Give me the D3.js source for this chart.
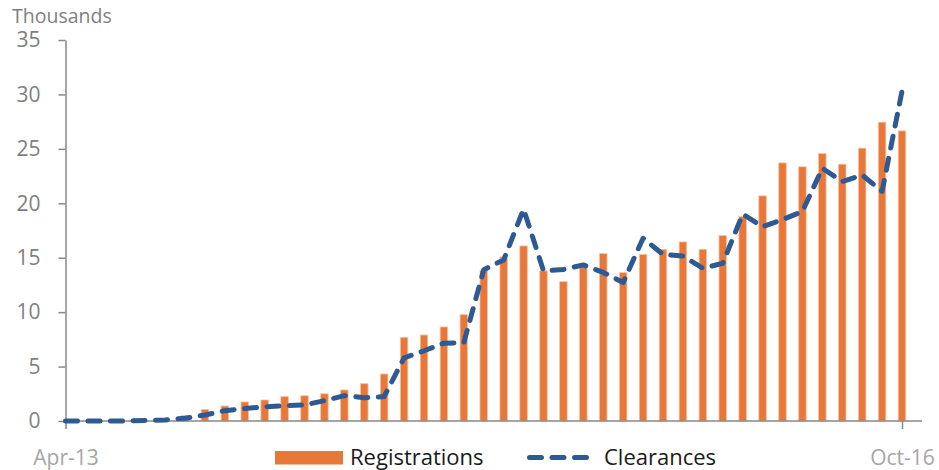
<!DOCTYPE html>
<html>
<head>
<meta charset="utf-8">
<script src="https://cdn.jsdelivr.net/npm/d3@7"></script>
<style>
  body { margin: 0; background: #fff; }
  svg { display: block; }
</style>
</head>
<body>
<div id="chart"></div>
<script>
// monthly categories, Apr-13 .. Oct-16
var months = [
  'Apr-13','May-13','Jun-13','Jul-13','Aug-13','Sep-13','Oct-13','Nov-13','Dec-13',
  'Jan-14','Feb-14','Mar-14','Apr-14','May-14','Jun-14','Jul-14','Aug-14','Sep-14','Oct-14','Nov-14','Dec-14',
  'Jan-15','Feb-15','Mar-15','Apr-15','May-15','Jun-15','Jul-15','Aug-15','Sep-15','Oct-15','Nov-15','Dec-15',
  'Jan-16','Feb-16','Mar-16','Apr-16','May-16','Jun-16','Jul-16','Aug-16','Sep-16','Oct-16'
];

// values in thousands
var registrations = [
  0, 0, 0, 0, 0, 0, 0.5, 1.07, 1.38, 1.75, 1.93, 2.24, 2.32, 2.5, 2.85, 3.43, 4.32,
  7.69, 7.9, 8.64, 9.77, 13.85, 15.07, 16.08, 13.79, 12.8, 14.31, 15.38, 13.63, 15.31,
  15.77, 16.45, 15.77, 17.03, 18.78, 20.68, 23.71, 23.35, 24.57, 23.59, 25.06, 27.45, 26.65
];

var clearances = [
  0, 0, 0, 0, 0.05, 0.1, 0.25, 0.55, 0.95, 1.15, 1.3, 1.4, 1.47, 1.87, 2.33, 2.14, 2.24,
  5.8, 6.45, 7.15, 7.2, 13.9, 14.8, 19.46, 13.8, 13.92, 14.34, 13.65, 12.72, 16.79,
  15.3, 15.15, 14.03, 14.49, 19.0, 17.86, 18.5, 19.25, 23.22, 22.0, 22.6, 21.1, 30.3
];

var yTicks = [0, 5, 10, 15, 20, 25, 30, 35];
var xLabels = ['Apr-13', 'Oct-16'];

var width = 939, height = 470;
var axisColor = '#898989';
var orange = '#E8773A';
var blue = '#2E5A93';
var font = '"Open Sans", sans-serif';

var svg = d3.select('#chart').append('svg')
    .attr('width', width)
    .attr('height', height);

var x = d3.scalePoint()
    .domain(months)
    .range([65.5, 902]);

var y = d3.scaleLinear()
    .domain([0, 35])
    .range([421, 40]);

// axis title
svg.append('text')
    .attr('x', 12)
    .attr('y', 23)
    .attr('font-family', font)
    .attr('font-size', 19.5)
    .attr('fill', '#7f7f7f')
    .text('Thousands');

// bars (pair each value with its month)
var barData = registrations.map(function(v, i) { return { month: months[i], value: v }; })
    .filter(function(d) { return d.value > 0; });

svg.append('g')
    .selectAll('rect')
    .data(barData)
    .enter()
    .append('rect')
    .attr('x', function(d) { return x(d.month) - 3.75; })
    .attr('width', 7.5)
    .attr('y', function(d) { return y(d.value); })
    .attr('height', function(d) { return y(0) - y(d.value); })
    .attr('fill', orange)
    .attr('stroke', '#F5C4A2')
    .attr('stroke-width', 0.8);

// y axis
var yAxis = svg.append('g')
    .attr('transform', 'translate(65.5,0)')
    .call(d3.axisLeft(y).tickValues(yTicks).tickSize(7).tickSizeOuter(0).tickPadding(18));
yAxis.select('.domain').attr('stroke', axisColor).attr('stroke-width', 1.5);
yAxis.selectAll('.tick line').attr('stroke', axisColor).attr('stroke-width', 1.5);
yAxis.selectAll('.tick text')
    .attr('font-family', font)
    .attr('font-size', 21)
    .attr('fill', '#7f7f7f');

// x axis
var xAxis = svg.append('g')
    .attr('transform', 'translate(0,421)')
    .call(d3.axisBottom(x).tickValues(xLabels).tickSize(8).tickSizeOuter(0));
xAxis.select('.domain').remove();
xAxis.append('line')
    .attr('x1', 65.5)
    .attr('x2', 922)
    .attr('stroke', axisColor)
    .attr('stroke-width', 1.5);
xAxis.selectAll('.tick line').attr('stroke', axisColor).attr('stroke-width', 1.5);
xAxis.selectAll('.tick text')
    .attr('y', 44)
    .attr('dy', 0)
    .attr('font-family', font)
    .attr('font-size', 21)
    .attr('fill', '#a6a6a6');

// clearances line
var line = d3.line()
    .x(function(d, i) { return x(months[i]); })
    .y(function(d) { return y(d); });

svg.append('path')
    .datum(clearances)
    .attr('d', line)
    .attr('fill', 'none')
    .attr('stroke', blue)
    .attr('stroke-width', 5)
    .attr('stroke-linecap', 'round')
    .attr('stroke-linejoin', 'round')
    .attr('stroke-dasharray', '12,10.5');

// legend
var legend = svg.append('g');
legend.append('rect')
    .attr('x', 275)
    .attr('y', 451)
    .attr('width', 68)
    .attr('height', 13.5)
    .attr('fill', orange);
legend.append('text')
    .attr('x', 350)
    .attr('y', 465)
    .attr('font-family', font)
    .attr('font-size', 22)
    .attr('fill', '#1a1a1a')
    .text('Registrations');
legend.append('line')
    .attr('x1', 529.5)
    .attr('x2', 586.5)
    .attr('y1', 457.5)
    .attr('y2', 457.5)
    .attr('stroke', blue)
    .attr('stroke-width', 5)
    .attr('stroke-linecap', 'round')
    .attr('stroke-dasharray', '12,10.5');
legend.append('text')
    .attr('x', 604)
    .attr('y', 465)
    .attr('font-family', font)
    .attr('font-size', 22)
    .attr('fill', '#1a1a1a')
    .text('Clearances');
</script>
</body>
</html>
